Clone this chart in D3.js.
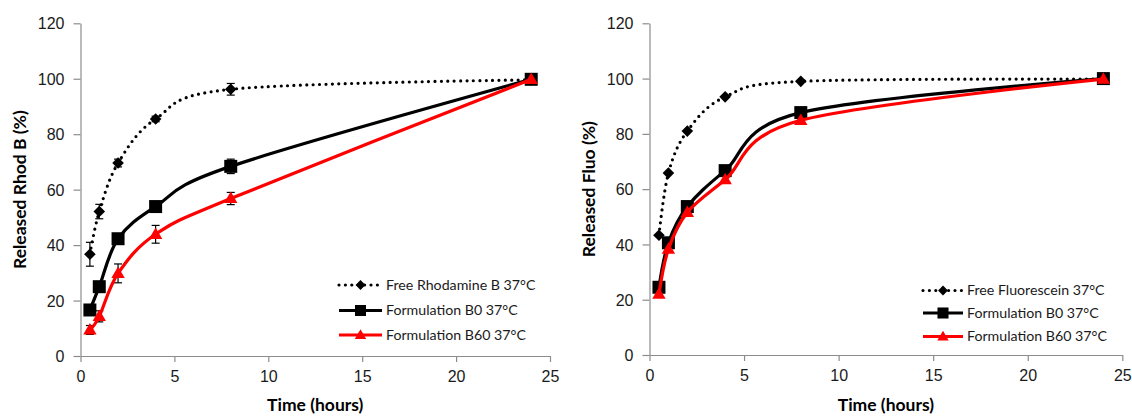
<!DOCTYPE html>
<html>
<head>
<meta charset="utf-8">
<script src="https://cdn.jsdelivr.net/npm/d3@7"></script>
<style>
  body { margin: 0; background: #fff; }
  svg { display: block; font-family: Lato, "Open Sans", sans-serif; }
</style>
</head>
<body>
<svg id="chart" width="1132" height="416"></svg>
<script>
// time points (hours)
const times = [0.5, 1, 2, 4, 8, 24];

// left panel: Rhodamine B
const freeRhod    = [36.7, 52.1, 69.6, 85.5, 96.2, 99.6];
const freeRhodErr = [4.3, 2.6, 1.4, 1.0, 2.1, 0];
const rhodB0      = [16.6, 25.0, 42.3, 53.9, 68.4, 99.8];
const rhodB0Err   = [1.5, 1.0, 1.2, 1.0, 2.6, 0];
const rhodB60     = [9.4, 14.3, 29.8, 43.9, 56.8, 99.8];
const rhodB60Err  = [1.6, 2.0, 3.4, 3.2, 2.2, 0];

// right panel: Fluorescein
const freeFluo = [43.3, 65.8, 81.0, 93.4, 99.0, 99.8];
const fluoB0   = [24.5, 40.6, 53.7, 66.7, 87.7, 100];
const fluoB60  = [22.0, 38.3, 51.6, 63.4, 84.9, 99.8];

const xTicks = [0, 5, 10, 15, 20, 25];
const yTicks = [0, 20, 40, 60, 80, 100, 120];

const svg = d3.select("#chart");

function drawPanel(p) {
  const x = d3.scaleLinear().domain([0, 25]).range([p.left, p.right]);
  const y = d3.scaleLinear().domain([0, 120]).range([p.bottom, p.top]);
  const g = svg.append("g");

  // axes
  const ax = g.append("g")
      .attr("transform", `translate(0,${p.bottom})`)
      .call(d3.axisBottom(x).tickValues(xTicks).tickSize(6).tickSizeOuter(0).tickPadding(9));
  const ay = g.append("g")
      .attr("transform", `translate(${p.left},0)`)
      .call(d3.axisLeft(y).tickValues(yTicks).tickSize(7).tickSizeOuter(0).tickPadding(9));
  [ax, ay].forEach(a => {
    a.select(".domain").attr("stroke", "#8c8c8c").attr("stroke-width", 1.2);
    a.selectAll(".tick line").attr("stroke", "#8c8c8c").attr("stroke-width", 1.2);
    a.selectAll("text").attr("fill", "#1a1a1a").style("font-size", "16px");
  });
  ay.selectAll("text").attr("dy", "0.35em");

  // axis titles
  g.append("text")
    .attr("x", (p.left + p.right) / 2).attr("y", 411)
    .attr("text-anchor", "middle")
    .style("font-size", "17.5px").style("font-weight", "bold")
    .text("Time (hours)");
  g.append("text")
    .attr("transform", `translate(${p.left - 55},${(p.top + p.bottom) / 2}) rotate(-90)`)
    .attr("text-anchor", "middle")
    .style("font-size", "17.5px").style("font-weight", "bold")
    .text(p.ylabel);

  const line = d3.line()
      .x((d, i) => x(times[i]))
      .y(d => y(d))
      .curve(d3.curveCardinal.tension(0));

  p.series.forEach(s => {
    // error bars
    if (s.err) {
      const eb = g.append("g").attr("stroke", "#000").attr("stroke-width", 1.2);
      s.values.forEach((v, i) => {
        if (!s.err[i]) return;
        const cx = x(times[i]);
        eb.append("line").attr("x1", cx).attr("x2", cx).attr("y1", y(v - s.err[i])).attr("y2", y(v + s.err[i]));
        [v - s.err[i], v + s.err[i]].forEach(e =>
          eb.append("line").attr("x1", cx - 4).attr("x2", cx + 4).attr("y1", y(e)).attr("y2", y(e)));
      });
    }
    g.append("path")
      .datum(s.values)
      .attr("d", line)
      .attr("fill", "none")
      .attr("stroke", s.color)
      .attr("stroke-width", 3.2)
      .attr("stroke-linecap", s.dotted ? "round" : "butt")
      .attr("stroke-dasharray", s.dotted ? "0 6.4" : null);
    g.append("g").selectAll("path")
      .data(s.values).enter().append("path")
        .attr("transform", (d, i) => `translate(${x(times[i])},${y(d)})`)
        .attr("d", markerPath(s.marker, 1))
        .attr("fill", s.color);
  });

  // legend
  const lg = g.append("g");
  p.series.forEach((s, i) => {
    const ly = p.legend.y[i];
    lg.append("line")
      .attr("x1", p.legend.x1).attr("x2", p.legend.x2)
      .attr("y1", ly).attr("y2", ly)
      .attr("stroke", s.color).attr("stroke-width", 3.2)
      .attr("stroke-linecap", s.dotted ? "round" : "butt")
      .attr("stroke-dasharray", s.dotted ? "0 6.4" : null);
    lg.append("path")
      .attr("transform", `translate(${(p.legend.x1 + p.legend.x2) / 2},${ly})`)
      .attr("d", markerPath(s.marker, 0.85))
      .attr("fill", s.color);
    lg.append("text")
      .attr("x", p.legend.x2 + 4).attr("y", ly)
      .attr("dy", "0.35em")
      .attr("fill", "#1a1a1a")
      .style("font-size", "14.2px")
      .text(s.name);
  });
}

function markerPath(type, k) {
  if (type === "diamond") { const r = 5.8 * k; return `M0,${-r}L${r},0L0,${r}L${-r},0Z`; }
  if (type === "square")  { const r = 6.5 * k; return `M${-r},${-r}H${r}V${r}H${-r}Z`; }
  const w = 6.7 * k, h = 11.5 * k;
  return `M0,${-h * 0.6}L${w},${h * 0.4}L${-w},${h * 0.4}Z`;
}

drawPanel({
  left: 80.5, right: 550, top: 23.3, bottom: 356,
  ylabel: "Released Rhod B (%)",
  legend: { x1: 339, x2: 382, y: [285, 310.5, 335] },
  series: [
    { name: "Free Rhodamine B 37°C", values: freeRhod, err: freeRhodErr, color: "#000", dotted: true, marker: "diamond" },
    { name: "Formulation B0 37°C", values: rhodB0, err: rhodB0Err, color: "#000", marker: "square" },
    { name: "Formulation B60 37°C", values: rhodB60, err: rhodB60Err, color: "#ff0000", marker: "triangle" }
  ]
});

drawPanel({
  left: 649.5, right: 1122.3, top: 23.3, bottom: 355,
  ylabel: "Released Fluo (%)",
  legend: { x1: 923, x2: 963, y: [290.5, 313, 336.5] },
  series: [
    { name: "Free Fluorescein 37°C", values: freeFluo, color: "#000", dotted: true, marker: "diamond" },
    { name: "Formulation B0 37°C", values: fluoB0, color: "#000", marker: "square" },
    { name: "Formulation B60 37°C", values: fluoB60, color: "#ff0000", marker: "triangle" }
  ]
});
</script>
</body>
</html>
